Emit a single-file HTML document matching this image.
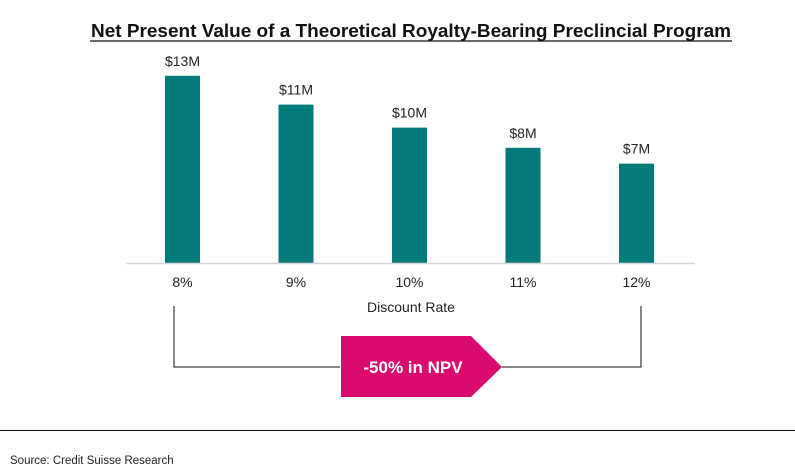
<!DOCTYPE html>
<html><head><meta charset="utf-8"><style>
body{margin:0;background:#fff;font-family:"Liberation Sans",Arial,sans-serif;}
svg{display:block}
</style></head><body>
<svg width="795" height="474" viewBox="0 0 795 474">
<text x="91" y="37" textLength="640" lengthAdjust="spacingAndGlyphs" font-size="18" font-weight="bold" fill="#111">Net Present Value of a Theoretical Royalty-Bearing Preclincial Program</text>
<line x1="90" y1="41" x2="732" y2="41" stroke="#111" stroke-width="1.3"/>
<g id="bars"></g>
<line x1="126" y1="263.5" x2="695" y2="263.5" stroke="#d8d8d8" stroke-width="1.5"/>
<text x="411" y="312" text-anchor="middle" font-size="14" fill="#222">Discount Rate</text>
<polyline points="174,306 174,367 340,367" fill="none" stroke="#111" stroke-width="1"/>
<polyline points="502,367 641,367 641,306" fill="none" stroke="#111" stroke-width="1"/>
<polygon points="341,336 471,336 502,367 471,397 341,397" fill="#d90c6e"/>
<text x="413" y="373" text-anchor="middle" font-size="17" font-weight="bold" fill="#fff">-50% in NPV</text>
<line x1="0" y1="430.5" x2="795" y2="430.5" stroke="#111" stroke-width="1"/>
<text x="10" y="464" font-size="11.5" fill="#222">Source: Credit Suisse Research</text>
</svg>
<script>
const categories=["8%","9%","10%","11%","12%"];
const values=[13.0,11.0,9.4,8.0,6.9];
const valueLabels=["$13M","$11M","$10M","$8M","$7M"];
const NS="http://www.w3.org/2000/svg";
const baseY=263, pxPerM=14.4, x0=182.5, step=113.5, bw=35;
function xPos(i){return x0+i*step;}
function yPos(v){return baseY-v*pxPerM;}
const g=document.getElementById('bars');
categories.forEach((c,i)=>{
  const cx=xPos(i), y=yPos(values[i]);
  const r=document.createElementNS(NS,'rect');
  r.setAttribute('x',cx-bw/2);r.setAttribute('y',y);r.setAttribute('width',bw);r.setAttribute('height',baseY-y);r.setAttribute('fill','#057a7d');
  
  
  g.appendChild(r);
  const t=document.createElementNS(NS,'text');
  t.setAttribute('x',cx);t.setAttribute('y',y-10);t.setAttribute('text-anchor','middle');t.setAttribute('font-size','14');t.setAttribute('fill','#222');
  t.textContent=valueLabels[i];
  
  
  g.appendChild(t);
  const k=document.createElementNS(NS,'text');
  k.setAttribute('x',cx);k.setAttribute('y',287);k.setAttribute('text-anchor','middle');k.setAttribute('font-size','14');k.setAttribute('fill','#222');
  k.textContent=c;
  
  
  g.appendChild(k);
});
</script>
</body></html>
